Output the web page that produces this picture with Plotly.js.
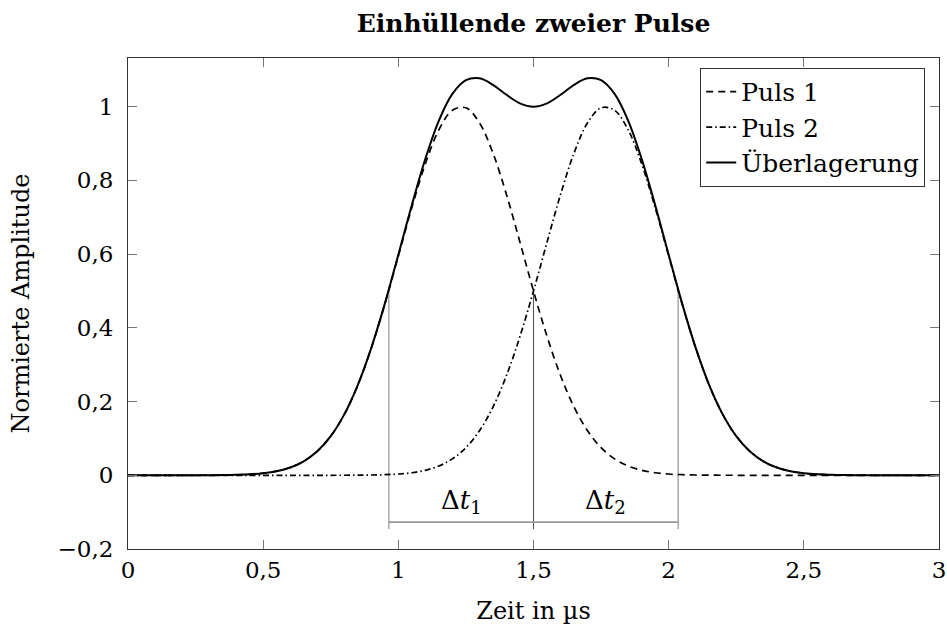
<!DOCTYPE html>
<html><head><meta charset="utf-8">
<script src="https://cdn.plot.ly/plotly-3.0.1.min.js"></script>
<style>html,body{margin:0;padding:0;background:#fff}#chart{width:947px;height:630px}</style>
</head><body><div id="chart"></div>
<script>
// Zeit in µs
const time = [0,0.05,0.1,0.15,0.2,0.25,0.3,0.35,0.4,0.45,0.5,0.55,0.6,0.65,0.7,0.75,0.8,0.85,0.9,0.95,
  1,1.05,1.1,1.15,1.2,1.25,1.3,1.35,1.4,1.45,1.5,1.55,1.6,1.65,1.7,1.75,1.8,1.85,1.9,1.95,
  2,2.05,2.1,2.15,2.2,2.25,2.3,2.35,2.4,2.45,2.5,2.55,2.6,2.65,2.7,2.75,2.8,2.85,2.9,2.95,3];
const puls1 = [0,0,0,0,0,0,0.0002,0.0005,0.0013,0.0027,0.0057,0.0112,0.0212,0.0380,0.0651,0.1061,0.1651,0.2445,0.3451,0.4641,
  0.5948,0.7264,0.8452,0.9372,0.9902,0.9969,0.9564,0.8742,0.7616,0.6321,0.5000,0.3768,0.2706,0.1851,0.1207,0.0750,0.0444,0.0251,0.0135,0.0069,
  0.0034,0.0016,0.0007,0.0003,0.0001,0,0,0,0,0,0,0,0,0,0,0,0,0,0,0,0];
const puls2 = [0,0,0,0,0,0,0,0,0,0,0,0,0,0,0,0,0.0001,0.0003,0.0007,0.0016,
  0.0034,0.0069,0.0135,0.0251,0.0444,0.0750,0.1207,0.1851,0.2706,0.3768,0.5000,0.6321,0.7616,0.8742,0.9564,0.9969,0.9902,0.9372,0.8452,0.7264,
  0.5948,0.4641,0.3451,0.2445,0.1651,0.1061,0.0651,0.0380,0.0212,0.0112,0.0057,0.0027,0.0013,0.0005,0.0002,0,0,0,0,0,0];
const ueberlagerung = [0,0,0,0,0,0,0.0002,0.0005,0.0013,0.0027,0.0057,0.0112,0.0212,0.0380,0.0651,0.1061,0.1652,0.2448,0.3458,0.4657,
  0.5982,0.7333,0.8587,0.9623,1.0346,1.0719,1.0771,1.0593,1.0322,1.0089,1.0000,1.0089,1.0322,1.0593,1.0771,1.0719,1.0346,0.9623,0.8587,0.7333,
  0.5982,0.4657,0.3458,0.2448,0.1652,0.1061,0.0651,0.0380,0.0212,0.0112,0.0057,0.0027,0.0013,0.0005,0.0002,0,0,0,0,0,0];
const seriesNames = ['Puls 1','Puls 2','Überlagerung'];
const xTickVals = [0,0.5,1,1.5,2,2.5,3];
const xTickText = ['0','0,5','1','1,5','2','2,5','3'];
const yTickVals = [-0.2,0,0.2,0.4,0.6,0.8,1];
const yTickText = ['\u22120,2','0','0,2','0,4','0,6','0,8','1'];
// Δt markers (x positions of the half-maximum points and the crossing)
const deltaX = [0.965, 1.5, 2.035];
const deltaTop = 0.5;
const deltaBottom = -0.146;
const bracketY = -0.127;
const deltaLabelY = -0.072;
const deltaLabels = ['\u0394<i>t</i><sub>1</sub>','\u0394<i>t</i><sub>2</sub>'];

const FONT = 'DejaVu Serif, Liberation Serif, serif';
const traces = [
  {x: time, y: puls1, name: seriesNames[0], type: 'scatter', mode: 'lines',
   line: {color: '#000', width: 1.7, dash: '7px,5px', shape: 'spline', smoothing: 1}},
  {x: time, y: puls2, name: seriesNames[1], type: 'scatter', mode: 'lines',
   line: {color: '#000', width: 1.7, dash: '6px,3px,1.5px,3px', shape: 'spline', smoothing: 1}},
  {x: time, y: ueberlagerung, name: seriesNames[2], type: 'scatter', mode: 'lines',
   line: {color: '#000', width: 2, shape: 'spline', smoothing: 1}}
];

const shapes = [];
deltaX.forEach((dx, i) => {
  shapes.push({type: 'line', xref: 'x', yref: 'y', x0: dx, x1: dx, y0: deltaBottom, y1: deltaTop,
    line: {color: i === 1 ? '#555' : '#8a8a8a', width: 1.1}, layer: 'below'});
});
shapes.push({type: 'line', xref: 'x', yref: 'y', x0: deltaX[0], x1: deltaX[2], y0: bracketY, y1: bracketY,
  line: {color: '#9a9a9a', width: 1.6}, layer: 'below'});

const annotations = deltaLabels.map((t, i) => ({
  x: (deltaX[i] + deltaX[i+1]) / 2, y: deltaLabelY, xref: 'x', yref: 'y', text: t, showarrow: false,
  font: {family: FONT, size: 26, color: '#000'}
}));

const axisCommon = {
  showgrid: false, zeroline: false, showline: true, linecolor: '#333', linewidth: 1,
  mirror: 'ticks', ticks: 'inside', ticklen: 9, tickcolor: '#777', tickwidth: 1,
  tickfont: {family: FONT, size: 23, color: '#000'}, automargin: false
};

const layout = {
  width: 947, height: 630,
  margin: {l: 128, r: 8, t: 58, b: 81},
  paper_bgcolor: '#fff', plot_bgcolor: '#fff',
  font: {family: FONT, color: '#000'},
  title: {text: '<b>Einhüllende zweier Pulse</b>', x: 0.5, xref: 'paper', y: 1 - 23/630, yref: 'container',
    yanchor: 'middle', font: {family: FONT, size: 25, color: '#000'}},
  xaxis: Object.assign({}, axisCommon, {range: [0, 3], tickmode: 'array', tickvals: xTickVals, ticktext: xTickText,
    ticklabelstandoff: 0,
    title: {text: 'Zeit in µs', standoff: 20, font: {family: FONT, size: 24, color: '#000'}}}),
  yaxis: Object.assign({}, axisCommon, {range: [-0.2, 1.132], tickmode: 'array', tickvals: yTickVals, ticktext: yTickText,
    ticklabelstandoff: 9,
    title: {text: 'Normierte Amplitude', standoff: 21, font: {family: FONT, size: 24, color: '#000'}}}),
  showlegend: true,
  legend: {x: 0.983, xanchor: 'right', y: 0.98, yanchor: 'top', bgcolor: '#fff', bordercolor: '#333', borderwidth: 1,
    font: {family: FONT, size: 25, color: '#000'}, traceorder: 'normal'},
  shapes: shapes,
  annotations: annotations
};

Plotly.newPlot('chart', traces, layout, {displayModeBar: false, staticPlot: true});
</script>
</body></html>
